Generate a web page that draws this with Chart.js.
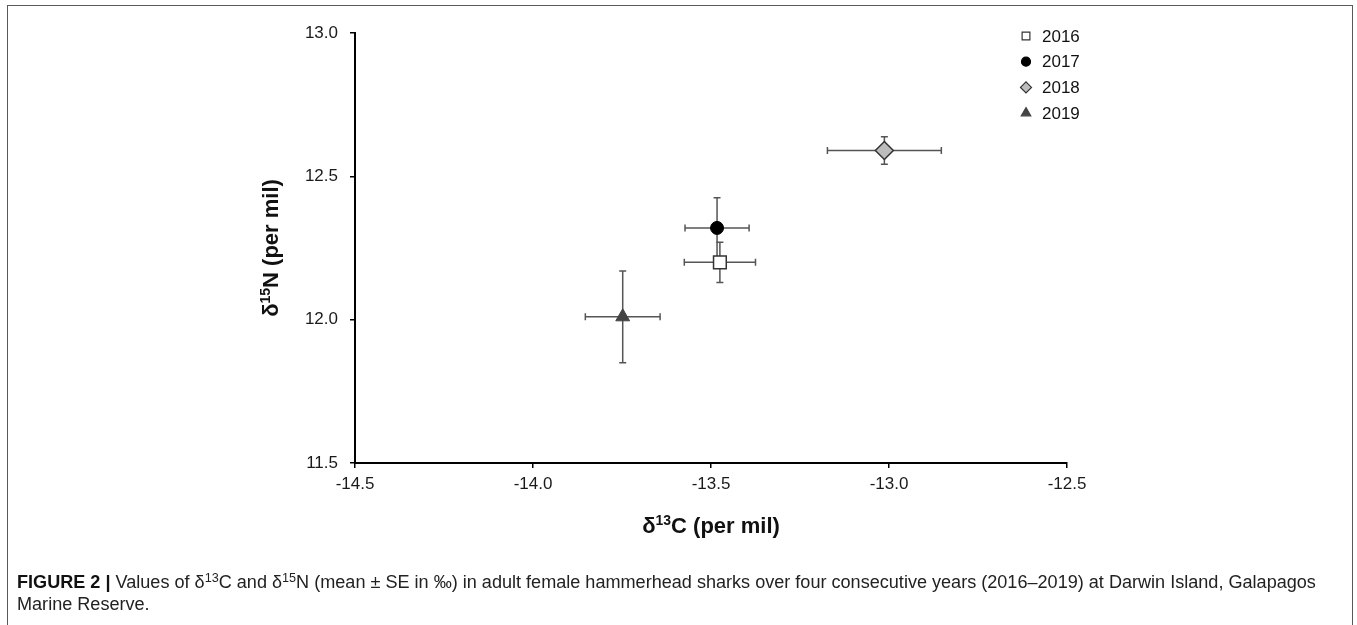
<!DOCTYPE html>
<html>
<head>
<meta charset="utf-8">
<script src="https://cdn.jsdelivr.net/npm/chart.js@4.4.0/dist/chart.umd.min.js"></script>
<style>
  html, body { margin: 0; padding: 0; background: #fff; }
  body { width: 1357px; height: 625px; position: relative; overflow: hidden; font-family: "Liberation Sans", Arial, sans-serif; }
  #frame { position: absolute; left: 7px; top: 5px; width: 1346px; height: 700px; border: 1.5px solid #5a5a5a; box-sizing: border-box; }
  #chart { position: absolute; left: 0; top: 0; }
  #caption { position: absolute; left: 17px; top: 571px; font-size: 16px; line-height: 22px; color: #222; white-space: nowrap; }
  #caption b { font-weight: bold; color: #111; }
  #caption sup { font-size: 0.7em; line-height: 0; vertical-align: 0.45em; }
</style>
</head>
<body>
<div id="frame"></div>
<canvas id="chart" width="1357" height="600"></canvas>
<div id="caption"><span id="cap1"><b>FIGURE 2 |</b> Values of δ<sup>13</sup>C and δ<sup>15</sup>N (mean ± SE in ‰) in adult female hammerhead sharks over four consecutive years (2016–2019) at Darwin Island, Galapagos</span><br>Marine Reserve.</div>
<script>
// data (mean ± SE, per mil)
const years = ['2016', '2017', '2018', '2019'];
const d13C = [-13.475, -13.483, -13.013, -13.748];
const d15N = [12.20, 12.32, 12.59, 12.01];
const seC = [0.10, 0.09, 0.16, 0.105];
const seN = [0.07, 0.105, 0.048, 0.16];
const xTicks = [-14.5, -14.0, -13.5, -13.0, -12.5];
const yTicks = [11.5, 12.0, 12.5, 13.0];

const markers = [
    { style: 'rect', r: 9, fill: '#ffffff', line: '#333333', lw: 1.5, legendR: 5.5 },
    { style: 'circle', r: 6.5, fill: '#000000', line: '#000000', lw: 1, legendR: 4.5 },
    { style: 'rectRot', r: 9, fill: '#bdbdbd', line: '#333333', lw: 1.5, legendR: 5.5 },
    { style: 'triangle', r: 8, fill: '#444444', line: '#444444', lw: 1, legendR: 5.5 }
];

const tickFont = { family: '"Liberation Sans", Arial, sans-serif', size: 17 };

// fit caption first line to the reference width
const cap1 = document.getElementById('cap1');
const capW = cap1.getBoundingClientRect().width;
document.getElementById('caption').style.fontSize = (16 * 1300 / capW) + 'px';

// error bars drawn under the markers
const errorBars = {
    id: 'errorBars',
    beforeDatasetsDraw(chart) {
        const ctx = chart.ctx;
        const xs = chart.scales.x, ys = chart.scales.y;
        ctx.save();
        ctx.strokeStyle = '#555';
        ctx.lineWidth = 1.5;
        const cap = 3.5;
        years.forEach((y, i) => {
            const cx = xs.getPixelForValue(d13C[i]);
            const cy = ys.getPixelForValue(d15N[i]);
            const x0 = xs.getPixelForValue(d13C[i] - seC[i]);
            const x1 = xs.getPixelForValue(d13C[i] + seC[i]);
            const y0 = ys.getPixelForValue(d15N[i] - seN[i]);
            const y1 = ys.getPixelForValue(d15N[i] + seN[i]);
            ctx.beginPath();
            ctx.moveTo(x0, cy); ctx.lineTo(x1, cy);
            ctx.moveTo(x0, cy - cap); ctx.lineTo(x0, cy + cap);
            ctx.moveTo(x1, cy - cap); ctx.lineTo(x1, cy + cap);
            ctx.moveTo(cx, y0); ctx.lineTo(cx, y1);
            ctx.moveTo(cx - cap, y0); ctx.lineTo(cx + cap, y0);
            ctx.moveTo(cx - cap, y1); ctx.lineTo(cx + cap, y1);
            ctx.stroke();
        });
        ctx.restore();
    }
};

// draws "δ" + superscript + rest, centred on 0,0 of the current transform
function drawIsoLabel(ctx, sup, rest) {
    const big = 'bold 22px "Liberation Sans", Arial, sans-serif';
    const small = 'bold 14px "Liberation Sans", Arial, sans-serif';
    ctx.font = big;
    const wd = ctx.measureText('δ').width;
    const wr = ctx.measureText(rest).width;
    ctx.font = small;
    const ws = ctx.measureText(sup).width;
    let x = -(wd + ws + wr) / 2;
    ctx.textBaseline = 'middle';
    ctx.textAlign = 'left';
    ctx.fillStyle = '#111';
    ctx.font = big;
    ctx.fillText('δ', x, 0);
    x += wd;
    ctx.font = small;
    ctx.fillText(sup, x, -6);
    x += ws;
    ctx.font = big;
    ctx.fillText(rest, x, 0);
}

const extras = {
    id: 'extras',
    afterDraw(chart) {
        const ctx = chart.ctx;
        const area = chart.chartArea;
        // axis titles
        ctx.save();
        ctx.translate((area.left + area.right) / 2, 527);
        drawIsoLabel(ctx, '13', 'C (per mil)');
        ctx.restore();
        ctx.save();
        ctx.translate(272, (area.top + area.bottom) / 2);
        ctx.rotate(-Math.PI / 2);
        drawIsoLabel(ctx, '15', 'N (per mil)');
        ctx.restore();
        // legend
        ctx.save();
        years.forEach((y, i) => {
            const m = markers[i];
            const ly = 36 + i * 25.7;
            ctx.fillStyle = m.fill;
            ctx.strokeStyle = m.line;
            ctx.lineWidth = 1.2;
            Chart.helpers.drawPoint(ctx, { pointStyle: m.style, radius: m.legendR, rotation: 0, borderWidth: 1.2 }, 1026, ly);
            ctx.fillStyle = '#111';
            ctx.font = '17px "Liberation Sans", Arial, sans-serif';
            ctx.textAlign = 'left';
            ctx.textBaseline = 'middle';
            ctx.fillText(y, 1042, ly + 1);
        });
        ctx.restore();
    }
};

const datasets = years.map((y, i) => ({
    label: y,
    data: [{ x: d13C[i], y: d15N[i] }],
    pointStyle: markers[i].style,
    pointRadius: markers[i].r,
    pointHoverRadius: markers[i].r,
    backgroundColor: markers[i].fill,
    borderColor: markers[i].line,
    borderWidth: markers[i].lw
}));

function axisStyle() {
    return {
        grid: { display: true, drawOnChartArea: false, drawTicks: true, tickLength: 5, color: '#000', lineWidth: 1.5 },
        border: { display: true, color: '#000', width: 2 },
        ticks: { color: '#1a1a1a', font: tickFont, callback: v => Number(v).toFixed(1) }
    };
}

const xAxis = axisStyle();
Object.assign(xAxis, {
    type: 'linear', min: xTicks[0], max: xTicks[xTicks.length - 1],
    afterBuildTicks: s => { s.ticks = xTicks.map(v => ({ value: v })); },
    afterFit: s => { s.height = 137; }
});
xAxis.ticks.padding = 6;
xAxis.ticks.maxRotation = 0;

const yAxis = axisStyle();
Object.assign(yAxis, {
    type: 'linear', min: yTicks[0], max: yTicks[yTicks.length - 1],
    afterBuildTicks: s => { s.ticks = yTicks.map(v => ({ value: v })); },
    afterFit: s => { s.width = 105; }
});
yAxis.ticks.padding = 12;

new Chart(document.getElementById('chart'), {
    type: 'scatter',
    data: { datasets: datasets },
    options: {
        responsive: false,
        animation: false,
        layout: { padding: { left: 250, right: 290, top: 33, bottom: 0 } },
        plugins: { legend: { display: false }, tooltip: { enabled: false } },
        scales: { x: xAxis, y: yAxis }
    },
    plugins: [errorBars, extras]
});
</script>
</body>
</html>
